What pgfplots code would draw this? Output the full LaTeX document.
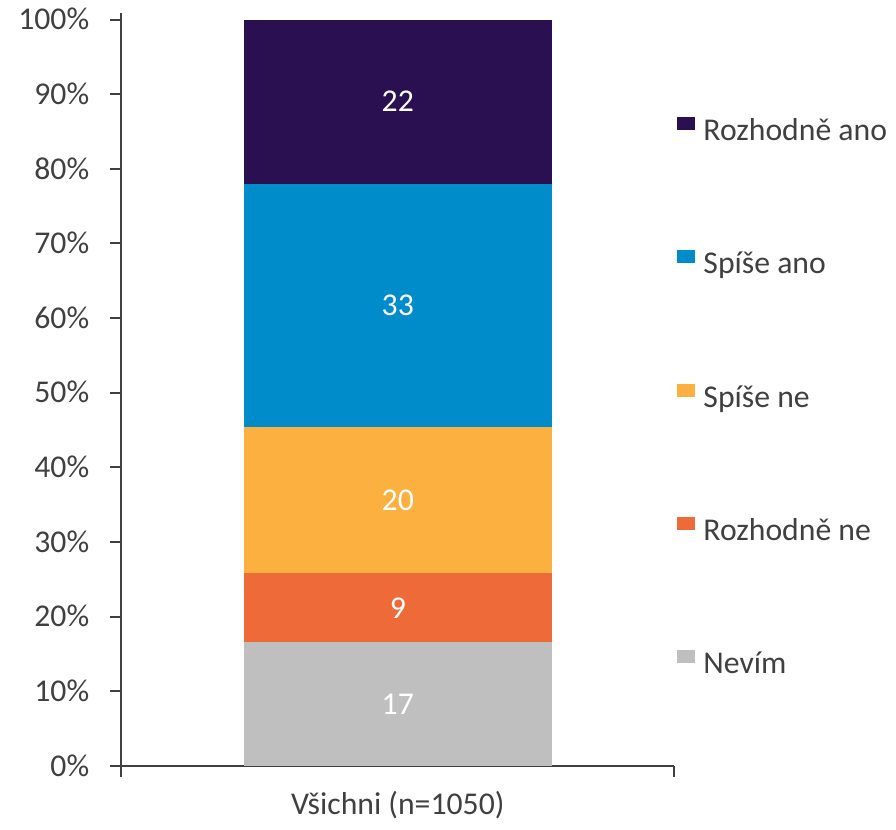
\documentclass[border=0pt]{standalone}
\usepackage{pgfplots}
\pgfplotsset{compat=1.18}
\usepackage{fontspec}
\setmainfont{Carlito}
\definecolor{rano}{HTML}{2A1050}
\definecolor{sano}{HTML}{008BCB}
\definecolor{sne}{HTML}{FBB040}
\definecolor{rne}{HTML}{EE6A38}
\definecolor{nevim}{HTML}{BFBFBF}
\definecolor{txt}{HTML}{404040}
\begin{document}
\fontsize{16}{19}\selectfont
\begin{tikzpicture}
\pgfplotsset{
  base/.style={width=279pt, height=380pt, scale only axis,
    xmin=0, xmax=1, ymin=0, ymax=100.9},
  sq/.style={legend image code/.code={\fill[##1, draw=none] (0pt,1.5pt) rectangle (9pt,8pt);}}
}
% stacked bar
\begin{axis}[base,
  ybar stacked, bar width=155.5pt,
  axis x line*=bottom, axis y line*=left,
  axis line style={txt, line width=1pt},
  tick style={txt, line width=1pt},
  tick align=outside, major tick length=5.5pt,
  xtick={0,1}, xticklabels={},
  ytick={0,10,...,100},
  /pgf/number format/assume math mode=true,
  yticklabel={\pgfmathprintnumber{\tick}\%},
  yticklabel style={text=txt, anchor=east, inner sep=0pt, xshift=-10.5pt,
    text width=45pt, align=right, text height=15pt, text depth=4.7pt},
  xlabel={Všichni (n=1050)},
  every axis x label/.style={at={(axis description cs:0.5,0)}, anchor=center, yshift=-19.5pt, text=txt},
  reverse legend,
  legend cell align=left,
  legend style={at={(1.0036,0.862)}, anchor=north west, draw=none, fill=none,
    inner sep=0pt, row sep=52pt, text=txt,
    nodes={inner ysep=0pt, inner xsep=4.5pt, text height=11pt, text depth=3.5pt}},
]
\addplot[fill=nevim, draw=none, sq] coordinates {(0.5,16.6)};
\addlegendentry{Nevím}
\addplot[fill=rne, draw=none, sq] coordinates {(0.5,9.2)};
\addlegendentry{Rozhodně ne}
\addplot[fill=sne, draw=none, sq] coordinates {(0.5,19.6)};
\addlegendentry{Spíše ne}
\addplot[fill=sano, draw=none, sq] coordinates {(0.5,32.6)};
\addlegendentry{Spíše ano}
\addplot[fill=rano, draw=none, sq] coordinates {(0.5,22.0)};
\addlegendentry{Rozhodně ano}
\end{axis}
% value labels at segment centres
\begin{axis}[base, hide axis]
\addplot[only marks, mark=*, mark size=0pt, mark options={draw=none, fill=none},
  point meta=explicit symbolic, nodes near coords,
  every node near coord/.append style={text=white, anchor=center}]
  coordinates {(0.5,8.3)[17] (0.5,21.2)[9] (0.5,35.6)[20] (0.5,61.7)[33] (0.5,89.0)[22]};
\end{axis}
\end{tikzpicture}
\end{document}
